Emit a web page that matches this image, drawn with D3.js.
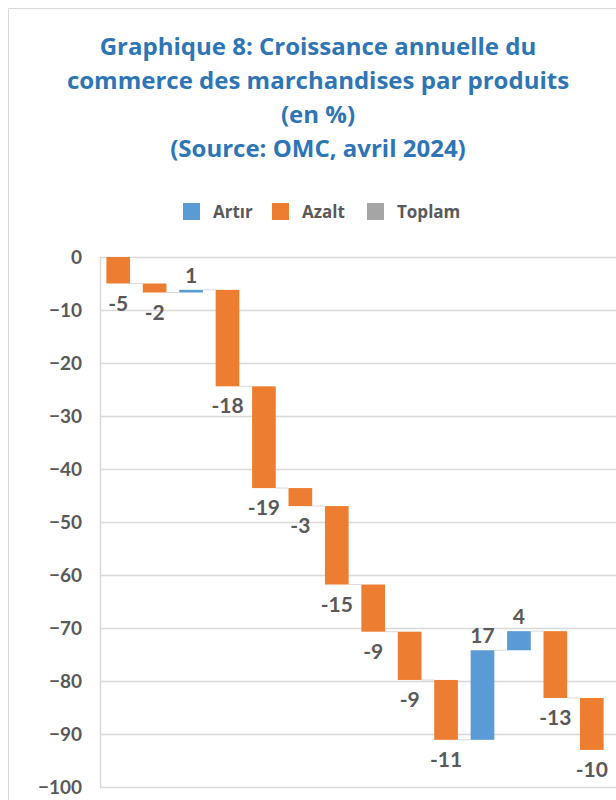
<!DOCTYPE html>
<html>
<head>
<meta charset="utf-8">
<script src="https://cdn.jsdelivr.net/npm/d3@7"></script>
<style>
  body { margin: 0; background: #fff; }
  svg text { font-family: Lato, "Open Sans", sans-serif; font-weight: bold; }
</style>
</head>
<body>
<div id="chart"></div>
<script>
// waterfall steps (labels are rounded values)
var steps = [-5.0, -1.7, 0.5, -18.2, -19.2, -3.4, -14.8, -8.9, -9.1, -11.3, 16.9, 3.6, -12.6, -9.8];
var yTicks = [0, -10, -20, -30, -40, -50, -60, -70, -80, -90, -100];
var titleLines = ["Graphique 8: Croissance annuelle du",
                  "commerce des marchandises par produits",
                  "(en %)",
                  "(Source: OMC, avril 2024)"];
var legendItems = ["Artır", "Azalt", "Toplam"];
var legendColors = ["#5b9bd5", "#ed7d31", "#a5a5a5"];

var W = 616, H = 800;
var svg = d3.select("#chart").append("svg").attr("width", W).attr("height", H);

// outer frame
svg.append("path").attr("d", "M8.5," + H + "V8.5H" + W)
    .attr("fill", "none").attr("stroke", "#d9d9d9");

// title
svg.selectAll(".title").data(titleLines).enter().append("text")
    .attr("x", 318).attr("y", function(d, i) { return 55 + i * 34; })
    .attr("text-anchor", "middle").attr("font-size", "24px")
    .style("font-family", "'Open Sans', sans-serif")
    .attr("fill", "#2e75b6").text(function(d) { return d; });

// legend
var legX = [183, 272, 367];
var leg = svg.selectAll(".leg").data(legendItems).enter().append("g")
    .attr("transform", function(d, i) { return "translate(" + legX[i] + ",203)"; });
leg.append("rect").attr("width", 17).attr("height", 17)
    .attr("fill", function(d, i) { return legendColors[i]; });
leg.append("text").attr("x", 30).attr("y", 15).attr("font-size", "17px")
    .style("font-family", "'Open Sans', sans-serif")
    .attr("fill", "#595959").text(function(d) { return d; });

// cumulative levels
var level = 0;
var bars = steps.map(function(v, i) {
    var start = level;
    level += v;
    return { i: i, v: v, start: start, end: level };
});

var x = d3.scaleBand().domain(d3.range(steps.length)).range([100, 610]).paddingInner(0.35).paddingOuter(0.175);
var y = d3.scaleLinear().domain([-100, 0]).range([787, 257]);

// gridlines
svg.append("g").selectAll("line").data(yTicks).enter().append("line")
    .attr("x1", 100).attr("x2", W)
    .attr("y1", function(d) { return Math.round(y(d)) + 0.5; })
    .attr("y2", function(d) { return Math.round(y(d)) + 0.5; })
    .attr("stroke", "#d9d9d9").attr("stroke-width", 1.5);
svg.append("line").attr("x1", 100.5).attr("x2", 100.5).attr("y1", 257).attr("y2", 787)
    .attr("stroke", "#d9d9d9").attr("stroke-width", 1.5);

// y axis labels
var yAxis = d3.axisLeft(y).tickValues(yTicks).tickSize(0).tickPadding(18);
var ya = svg.append("g").attr("transform", "translate(100,0)").call(yAxis);
ya.select(".domain").remove();
ya.selectAll("text").attr("font-size", "19px").attr("fill", "#595959")
    .style("font-family", "Lato, sans-serif").style("font-weight", "bold");

// connectors
svg.append("g").selectAll("line").data(bars.slice(0, -1)).enter().append("line")
    .attr("x1", function(d) { return x(d.i) + x.bandwidth(); })
    .attr("x2", function(d) { return x(d.i + 1); })
    .attr("y1", function(d) { return y(d.end); })
    .attr("y2", function(d) { return y(d.end); })
    .attr("stroke", "#d9d9d9").attr("stroke-width", 1);

// bars
svg.append("g").selectAll("rect").data(bars).enter().append("rect")
    .attr("x", function(d) { return x(d.i); })
    .attr("width", x.bandwidth())
    .attr("y", function(d) { return y(Math.max(d.start, d.end)); })
    .attr("height", function(d) { return Math.max(1.5, Math.abs(y(d.start) - y(d.end))); })
    .attr("fill", function(d) { return d.v > 0 ? legendColors[0] : legendColors[1]; });

// value labels
svg.append("g").selectAll("text").data(bars).enter().append("text")
    .attr("x", function(d) { return x(d.i) + x.bandwidth() / 2; })
    .attr("y", function(d) { return d.v > 0 ? y(d.end) - 7 : y(d.end) + 27; })
    .attr("text-anchor", "middle").attr("font-size", "21px").attr("fill", "#595959")
    .text(function(d) { return Math.round(d.v); });
</script>
</body>
</html>
